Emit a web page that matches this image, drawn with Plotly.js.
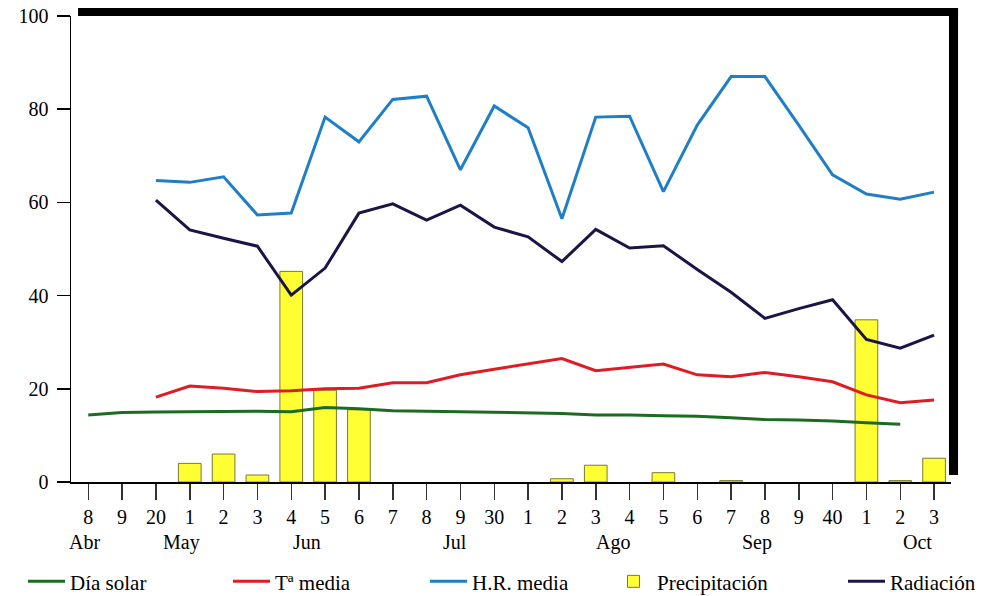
<!DOCTYPE html>
<html>
<head>
<meta charset="utf-8">
<script src="https://cdn.plot.ly/plotly-3.0.1.min.js"></script>
<style>html,body{margin:0;padding:0;background:#fff;}#chart{width:981px;height:596px;}</style>
</head>
<body>
<div id="chart"></div>
<script>
// Weeks 18..43 (tick labels as printed)
var weekLabels = ['8','9','20','1','2','3','4','5','6','7','8','9','30','1','2','3','4','5','6','7','8','9','40','1','2','3'];
var monthLabels = ['Abr','May','Jun','Jul','Ago','Sep','Oct'];

var diaSolar = [14.4,14.9,15.0,15.1,15.2,15.2,15.1,16.0,15.7,15.3,15.2,15.1,15.0,14.9,14.7,14.4,14.4,14.2,14.1,13.8,13.4,13.3,13.1,12.7,12.4,null];
var tMedia   = [null,null,18.2,20.6,20.1,19.4,19.6,20.0,20.1,21.3,21.3,23.0,24.2,25.3,26.5,23.9,24.6,25.3,23.0,22.6,23.5,22.6,21.5,18.7,17.0,17.6];
var hrMedia  = [null,null,64.7,64.3,65.5,57.3,57.7,78.3,73.0,82.1,82.8,67.0,80.7,76.0,56.5,78.3,78.5,62.3,76.6,87.0,87.0,76.6,65.9,61.8,60.7,62.2];
// null = no visible bar that week
var precip   = [null,null,null,4.0,6.0,1.5,45.2,19.7,15.5,null,null,null,null,null,0.7,3.6,null,2.0,null,0.3,null,null,null,34.8,0.3,5.1];
var radiacion= [null,null,60.5,54.1,52.3,50.6,40.1,45.9,57.7,59.7,56.2,59.4,54.7,52.6,47.3,54.2,50.2,50.7,45.6,40.7,35.1,37.2,39.1,30.6,28.7,31.5];

var idx = weekLabels.map(function(_, i){ return i; });
var FONT = '"Liberation Serif", "Times New Roman", serif';

var traces = [
  {type:'scatter', mode:'lines', name:'Día solar', legend:'legend', x:idx, y:diaSolar, line:{color:'#1d6b22', width:3}},
  {type:'scatter', mode:'lines', name:'Tª media', legend:'legend2', x:idx, y:tMedia, line:{color:'#e01b24', width:3}},
  {type:'scatter', mode:'lines', name:'H.R. media', legend:'legend3', x:idx, y:hrMedia, line:{color:'#1f7fc6', width:3}},
  {type:'bar', name:'Precipitación', legend:'legend4', x:idx, y:precip, width:0.67, marker:{color:'#ffff33', line:{color:'#7a7a30', width:1}}},
  {type:'scatter', mode:'lines', name:'Radiación', legend:'legend5', x:idx, y:radiacion, line:{color:'#1b1446', width:3}}
];

var monthPos = [-0.12, 2.75, 6.48, 10.83, 15.5, 19.76, 24.5];
var annotations = monthLabels.map(function(m, i){
  return {x: monthPos[i], xref:'x', y:0, yref:'paper', yanchor:'middle', xanchor:'center',
          yshift:-60, text:m, showarrow:false, font:{family:FONT, size:20, color:'#000'}};
});

function leg(textX){
  return {orientation:'h', xref:'container', yref:'container', x:(textX-47)/981, y:0.024,
          xanchor:'left', yanchor:'middle', itemwidth:37,
          font:{family:FONT, size:21, color:'#000'}, bgcolor:'rgba(0,0,0,0)', borderwidth:0};
}

var layout = {
  width:981, height:596,
  margin:{l:71, r:30, t:16, b:114, pad:0},
  paper_bgcolor:'#ffffff', plot_bgcolor:'#ffffff',
  font:{family:FONT, size:20, color:'#000'},
  showlegend:true,
  legend: leg(70), legend2: leg(275), legend3: leg(472), legend4: leg(657), legend5: leg(890),
  xaxis:{range:[-0.51, 25.5], tickmode:'array', tickvals:idx, ticktext:weekLabels,
         showline:true, linecolor:'#000', linewidth:1.5, ticks:'outside', ticklen:16, tickwidth:1.5, tickcolor:'#333',
         showgrid:false, zeroline:false, tickfont:{family:FONT, size:20, color:'#000'}, ticklabelstandoff:0, fixedrange:true},
  yaxis:{range:[0,100], tickvals:[0,20,40,60,80,100], showline:true, linecolor:'#000', linewidth:1.5,
         ticks:'outside', ticklen:13, tickwidth:1.5, tickcolor:'#000', showgrid:false, zeroline:false,
         tickfont:{family:FONT, size:20, color:'#000'}, ticklabelstandoff:4, fixedrange:true},
  bargap:0.33,
  annotations: annotations,
  shapes:[
    {type:'rect', xref:'paper', yref:'paper', x0:0.008, x1:1.008, y0:1.0, y1:1.017, fillcolor:'#000', line:{width:0}, layer:'above'},
    {type:'rect', xref:'paper', yref:'paper', x0:0.9977, x1:1.008, y0:0.015, y1:1.017, fillcolor:'#000', line:{width:0}, layer:'above'}
  ]
};

Plotly.newPlot('chart', traces, layout, {displayModeBar:false, staticPlot:true});
</script>
</body>
</html>
